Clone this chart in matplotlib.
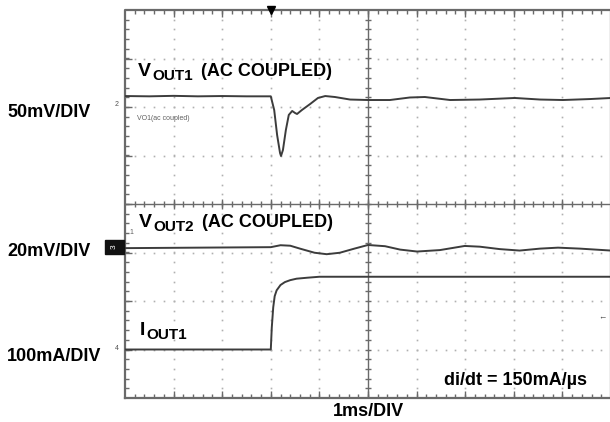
import matplotlib.pyplot as plt
from matplotlib.patches import Rectangle
import numpy as np

plt.rcParams['font.family'] = ['Liberation Sans', 'DejaVu Sans']

# Load step captured at t = 0 (1 ms/div, 3 div pre-trigger)
# VOUT1, AC coupled, mV (50 mV/div)
t_v1 = [-3.0, -2.5, -2.0, -1.5, -1.0, -0.5, 0.0, 0.07, 0.13, 0.19, 0.21, 0.25,
        0.31, 0.37, 0.44, 0.50, 0.54, 0.64, 0.81, 0.97, 1.12, 1.32, 1.63, 2.0,
        2.45, 2.86, 3.17, 3.69, 4.30, 5.02, 5.54, 6.01, 6.57, 7.0]
v1_mv = [11.3, 11.0, 11.5, 11.0, 11.3, 11.0, 11.0, -3.1, -28.9, -47.4, -50.5, -44.3,
         -23.7, -8.2, -4.1, -6.2, -7.2, -3.1, 3.1, 9.3, 11.3, 10.3, 7.7, 7.2,
         7.2, 9.8, 10.3, 7.2, 7.7, 9.3, 7.7, 7.2, 8.2, 9.3]

# VOUT2, AC coupled, mV (20 mV/div)
t_v2 = [-3.0, -1.5, 0.0, 0.2, 0.4, 0.6, 0.9, 1.15, 1.42, 1.72, 2.0, 2.35,
        2.66, 3.01, 3.48, 3.99, 4.30, 4.71, 5.12, 5.54, 5.91, 6.36, 7.0]
v2_mv = [-0.2, 0.0, 0.2, 1.0, 0.8, -0.4, -2.1, -2.7, -2.1, -0.4, 1.1, 0.6,
         -0.8, -1.6, -1.0, 0.7, 0.4, -0.6, -1.2, -0.4, 0.0, -0.4, -1.2]

# IOUT1, mA (100 mA/div)
t_i1 = [-3.0, 0.0, 0.02, 0.05, 0.08, 0.12, 0.2, 0.29, 0.4, 0.53, 0.75, 1.0, 7.0]
i1_ma = [0, 0, 45, 87, 110, 122, 133, 139, 143, 146, 148, 150, 150]

fig = plt.figure(figsize=(6.10, 4.22), dpi=100)
W, H = 610, 422
ax = fig.add_axes([125 / W, 24 / H, 486 / W, 388 / H])
ax.set_xlim(-3, 7)
ax.set_ylim(0, 8)
ax.axis('off')

# screen divisions: x in ms (1 div), y in divisions
grid_c = '#b0b0b0'
frame_c = '#6a6a6a'
minor = np.arange(0.2, 8, 0.2)
for gx in range(-2, 7):
    if gx == 2:
        continue
    ax.plot(np.full_like(minor, gx), minor, ls='none', marker='s', ms=1.2,
            color=grid_c, mec='none')
xminor = np.arange(-2.8, 7, 0.2)
for gy in range(1, 8):
    if gy == 4:
        continue
    ax.plot(xminor, np.full_like(xminor, gy), ls='none', marker='s', ms=1.2,
            color=grid_c, mec='none')

# centre cross with ticks
ax.axvline(2, color=frame_c, lw=1.0)
ax.axhline(4, color=frame_c, lw=1.0)
yt = np.arange(0.2, 8, 0.2)
ax.hlines(yt, 2 - 0.07, 2 + 0.07, color=frame_c, lw=1.0)
xt = np.arange(-2.8, 7, 0.2)
ax.vlines(xt, 4 - 0.06, 4 + 0.06, color=frame_c, lw=1.0)
ax.vlines(np.arange(-2, 7), 4 - 0.1, 4 + 0.1, color=frame_c, lw=1.0)

# frame with inward ticks
ax.plot([-3, 7, 7, -3, -3], [0, 0, 8, 8, 0], color=frame_c, lw=1.6, clip_on=False)
ax.vlines(xt, 8 - 0.08, 8, color=frame_c, lw=1.0)
ax.vlines(np.arange(-2, 7), 8 - 0.14, 8, color=frame_c, lw=1.0)
ax.vlines(xt, 0, 0.08, color=frame_c, lw=1.0)
ax.vlines(np.arange(-2, 7), 0, 0.14, color=frame_c, lw=1.0)
ax.hlines(yt, -3, -3 + 0.08, color=frame_c, lw=1.0)
ax.hlines(np.arange(1, 8), -3, -3 + 0.14, color=frame_c, lw=1.0)

# trigger marker
ax.plot([0], [8], marker='v', ms=6, color='black', clip_on=False)

# traces, each placed at its channel ground reference
trace_c = '#3c3c3c'
ax.plot(t_v1, 6.0 + np.array(v1_mv) / 50, color=trace_c, lw=1.4)
ax.plot(t_v2, 3.1 + np.array(v2_mv) / 20, color=trace_c, lw=1.4)
ax.plot(t_i1, 1.0 + np.array(i1_ma) / 100, color=trace_c, lw=1.4)


def px(x, y):
    return x / W, 1 - y / H


bold = dict(fontweight='bold', color='black', va='baseline')


def channel_label(x, y, main, sub, rest=''):
    # big letter, lowered subscript, then the rest of the caption
    fig.text(*px(x, y), main, fontsize=14, ha='left', **bold)
    sx = x + (14 if main == 'V' else 6)
    fig.text(*px(sx, y + 4), sub, fontsize=11, ha='left', **bold)
    if rest:
        fig.text(*px(sx + 49, y), rest, fontsize=13, ha='left', **bold)


channel_label(138, 76, 'V', 'OUT1', '(AC COUPLED)')
channel_label(139, 227, 'V', 'OUT2', '(AC COUPLED)')
channel_label(140, 335, 'I', 'OUT1')

fig.text(*px(7, 117), '50mV/DIV', fontsize=13, ha='left', **bold)
fig.text(*px(7, 256), '20mV/DIV', fontsize=13, ha='left', **bold)
fig.text(*px(7, 361), '100mA/DIV', fontsize=13, ha='left', **bold)
fig.text(*px(368, 416), '1ms/DIV', fontsize=13, ha='center', **bold)
fig.text(*px(587, 385), 'di/dt = 150mA/µs', fontsize=13, ha='right', **bold)

# scope annotations
fig.text(*px(137, 118), 'VO1(ac coupled)', fontsize=5, color='#606060',
         va='center', ha='left')
fig.text(*px(119, 104), '2', fontsize=5, color='#505050', va='center', ha='right')
fig.text(*px(119, 348), '4', fontsize=5, color='#505050', va='center', ha='right')
fig.text(*px(131, 232), '1', fontsize=5, color='#606060', va='center', ha='center')
fig.text(*px(602, 318), '←', fontsize=6, color='#404040', va='center', ha='center')
fig.patches.append(Rectangle(px(105, 254), 19 / W, 14 / H, transform=fig.transFigure,
                             color='#111111'))
fig.text(*px(114, 247), '3', fontsize=6, color='white', va='center', ha='center',
         rotation=90)

fig.savefig('out.png', dpi=100)
